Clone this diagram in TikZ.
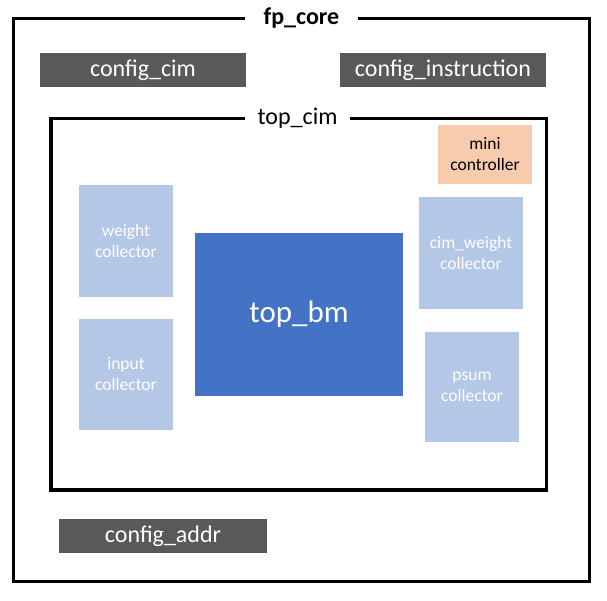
\documentclass[tikz,border=0pt]{standalone}
\usepackage{fontspec}
\setmainfont{Carlito}
\definecolor{cfggray}{HTML}{595959}
\definecolor{lblue}{HTML}{B4C7E7}
\definecolor{dblue}{HTML}{4472C4}
\definecolor{peach}{HTML}{F8CBAD}
\tikzset{
  frame/.style={draw=black, line width=3.5pt},
  cfgbox/.style={fill=cfggray, text=white, inner sep=0pt, minimum height=34pt,
    font=\fontsize{24}{29}\selectfont},
  collbox/.style={fill=lblue, text=white, inner sep=0pt, align=center,
    font=\fontsize{17.5}{21}\selectfont},
  titlelbl/.style={fill=white, inner sep=0pt, minimum height=12pt,
    font=\fontsize{24}{29}\selectfont},
}
\begin{document}
\begin{tikzpicture}[x=1pt,y=-1pt]
\useasboundingbox (0,0) rectangle (607,601);
% outer frame
\draw[frame] (13.5,18.5) rectangle (589.5,581.5);
\node[titlelbl, minimum width=113pt, font=\fontsize{24}{29}\bfseries\selectfont] (fpcore) at (301.5,18.5) {fp\_core};
% config boxes
\node[cfgbox, minimum width=206pt] (cfgcim) at (143,70) {config\_cim};
\node[cfgbox, minimum width=206pt] (cfginstr) at (443,70) {config\_instruction};
\node[cfgbox, minimum width=208pt] (cfgaddr) at (163,536) {config\_addr};
% inner frame
\draw[frame] (51,118.5) rectangle (546.5,490);
\node[titlelbl, minimum width=105pt] (topcim) at (297.5,118.5) {top\_cim};
% inner blocks
\node[fill=peach, text=black, inner sep=0pt, align=center, minimum width=94pt, minimum height=59pt,
  font=\fontsize{17.5}{21}\selectfont] (mini) at (485,154.5) {mini\\controller};
\node[collbox, minimum width=94pt, minimum height=112pt] (wcol) at (126,241) {weight\\collector};
\node[collbox, minimum width=94pt, minimum height=111pt] (icol) at (126,374.5) {input\\collector};
\node[collbox, minimum width=104pt, minimum height=112pt] (cwcol) at (471,253) {cim\_weight\\collector};
\node[collbox, minimum width=94pt, minimum height=110pt] (pcol) at (472,387) {psum\\collector};
\node[fill=dblue, text=white, inner sep=0pt, minimum width=208pt, minimum height=163pt,
  font=\fontsize{31}{37}\selectfont] (topbm) at (299,314.5) {top\_bm};
\end{tikzpicture}
\end{document}
